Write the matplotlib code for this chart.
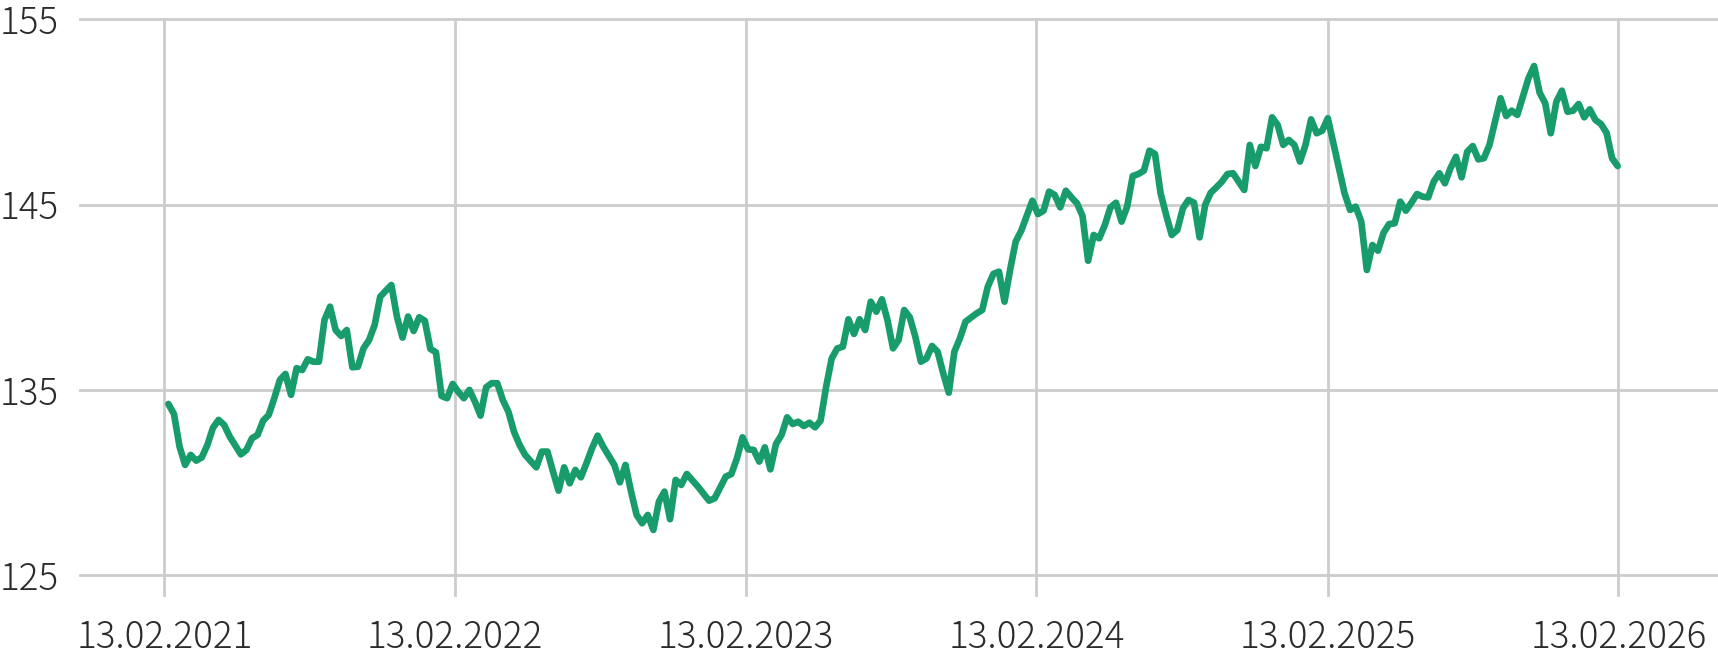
import numpy as np
import pandas as pd
import matplotlib
matplotlib.use('Agg')
import matplotlib.pyplot as plt
import matplotlib.dates as mdates

# weekly closing values, week number counted from the first observation
START = '2021-02-18'
weeks = [0, 1, 2, 3, 4, 5, 6, 7, 8, 9, 10, 11, 13, 14, 15, 16, 17, 18, 19, 20,
         21, 22, 23, 24, 25, 26, 27, 28, 29, 30, 31, 32, 33, 34, 35, 36, 37, 38, 39, 40,
         41, 42, 43, 44, 45, 46, 47, 48, 49, 50, 51, 52, 53, 54, 55, 56, 57, 58, 59, 60,
         61, 62, 63, 64, 66, 67, 68, 69, 70, 71, 72, 73, 74, 75, 76, 77, 78, 80, 81, 82,
         83, 84, 85, 86, 87, 88, 89, 90, 91, 92, 93, 95, 97, 98, 100, 101, 102, 103, 104, 105,
         106, 107, 108, 109, 110, 111, 112, 113, 114, 115, 116, 117, 118, 119, 120, 121, 122, 123, 124, 125,
         126, 127, 128, 129, 130, 131, 132, 133, 134, 135, 136, 137, 138, 139, 140, 141, 142, 143, 145, 146,
         147, 148, 149, 150, 151, 152, 153, 154, 155, 156, 157, 158, 159, 160, 161, 162, 163, 164, 165, 166,
         167, 168, 169, 170, 171, 172, 173, 174, 175, 176, 177, 178, 179, 180, 181, 182, 183, 184, 185, 186,
         187, 188, 189, 190, 191, 192, 193, 194, 195, 196, 197, 198, 199, 200, 201, 202, 203, 204, 205, 206,
         207, 208, 209, 210, 211, 212, 213, 214, 215, 216, 217, 218, 219, 220, 221, 222, 223, 224, 225, 226,
         227, 228, 229, 230, 231, 232, 233, 234, 235, 236, 237, 238, 239, 240, 241, 242, 243, 244, 245, 246,
         247, 248, 249, 250, 251, 252, 253, 254, 255, 256, 257, 258, 259, 260]
price = [134.24, 133.70, 131.94, 130.95, 131.49, 131.18, 131.36, 132.03, 132.96, 133.38,
         133.11, 132.48, 131.52, 131.76, 132.39, 132.57, 133.34, 133.65, 134.55, 135.54,
         135.86, 134.73, 136.17, 136.07, 136.65, 136.52, 136.52, 138.77, 139.49, 138.23,
         137.91, 138.23, 136.22, 136.25, 137.24, 137.69, 138.50, 140.03, 140.35, 140.66,
         138.95, 137.82, 138.96, 138.18, 138.92, 138.73, 137.21, 137.03, 134.67, 134.55,
         135.32, 134.90, 134.55, 135.00, 134.36, 133.61, 135.14, 135.36, 135.36, 134.45,
         133.82, 132.74, 132.03, 131.49, 130.82, 131.67, 131.67, 130.59, 129.56, 130.82,
         129.96, 130.68, 130.28, 131.04, 131.85, 132.53, 131.94, 130.95, 130.01, 130.95,
         129.51, 128.25, 127.80, 128.25, 127.44, 128.97, 129.51, 128.02, 130.14, 129.87,
         130.46, 129.78, 129.02, 129.15, 130.32, 130.46, 131.31, 132.44, 131.79, 131.76,
         131.13, 131.90, 130.71, 132.08, 132.57, 133.52, 133.16, 133.28, 133.05, 133.23,
         132.98, 133.34, 135.17, 136.70, 137.24, 137.33, 138.81, 138.02, 138.81, 138.23,
         139.76, 139.22, 139.89, 138.77, 137.24, 137.69, 139.31, 138.92, 137.87, 136.52,
         136.70, 137.37, 137.06, 135.90, 134.85, 137.06, 137.78, 138.68, 139.13, 139.31,
         140.57, 141.26, 141.38, 139.76, 141.47, 143.00, 143.59, 144.40, 145.21, 144.49,
         144.67, 145.70, 145.52, 144.85, 145.75, 145.39, 145.07, 144.38, 141.97, 143.36,
         143.18, 143.90, 144.85, 145.10, 144.08, 144.89, 146.54, 146.65, 146.83, 147.91,
         147.73, 145.61, 144.44, 143.36, 143.63, 144.80, 145.25, 145.10, 143.23, 144.98,
         145.64, 145.93, 146.24, 146.65, 146.69, 146.24, 145.79, 148.22, 147.08, 148.12,
         148.04, 149.71, 149.30, 148.22, 148.49, 148.22, 147.32, 148.22, 149.60, 148.85,
         148.99, 149.66, 148.31, 146.96, 145.61, 144.71, 144.89, 144.08, 141.47, 142.82,
         142.51, 143.48, 143.95, 143.99, 145.16, 144.67, 145.10, 145.57, 145.43, 145.39,
         146.24, 146.69, 146.15, 146.96, 147.58, 146.47, 147.85, 148.16, 147.44, 147.50,
         148.22, 149.47, 150.74, 149.78, 150.07, 149.84, 150.82, 151.82, 152.48, 151.04,
         150.47, 148.85, 150.55, 151.15, 150.01, 150.07, 150.43, 149.71, 150.14, 149.57,
         149.35, 148.88, 147.50, 147.08]

tick_dates = ['2021-02-13', '2022-02-13', '2023-02-13', '2024-02-13', '2025-02-13', '2026-02-13']
y_ticks = [125, 135, 145, 155]

dates = pd.to_datetime(START) + pd.to_timedelta(np.array(weeks) * 7, unit='D')

plt.rcParams['font.family'] = ['Noto Sans CJK JP', 'DejaVu Sans']

fig = plt.figure(figsize=(17.18, 6.58), dpi=100)
ax = fig.add_axes([80 / 1718, 63 / 658, 1638 / 1718, 575.7 / 658])

ax.plot(dates, price, color='#199c6c', lw=4.8, solid_joinstyle='round', solid_capstyle='round', zorder=3)

ax.set_ylim(123.93, 155)
ax.set_xlim(pd.Timestamp('2020-10-30'), pd.Timestamp('2026-06-18'))
ax.set_yticks(y_ticks)
ax.set_xticks(pd.to_datetime(tick_dates))
ax.xaxis.set_major_formatter(mdates.DateFormatter('%d.%m.%Y'))

ax.grid(True, color='#cccccc', lw=2)
for ln in ax.get_ygridlines() + ax.get_xgridlines():
    ln.set_clip_on(False)
for s in ax.spines.values():
    s.set_visible(False)

ax.tick_params(axis='both', length=0, labelsize=26.5, labelcolor='#2b2b2b')
ax.tick_params(axis='y', pad=15.5)
ax.tick_params(axis='x', pad=17)
for lab in ax.get_xticklabels() + ax.get_yticklabels():
    lab.set_fontweight('light')

fig.savefig('out.png', dpi=100)
